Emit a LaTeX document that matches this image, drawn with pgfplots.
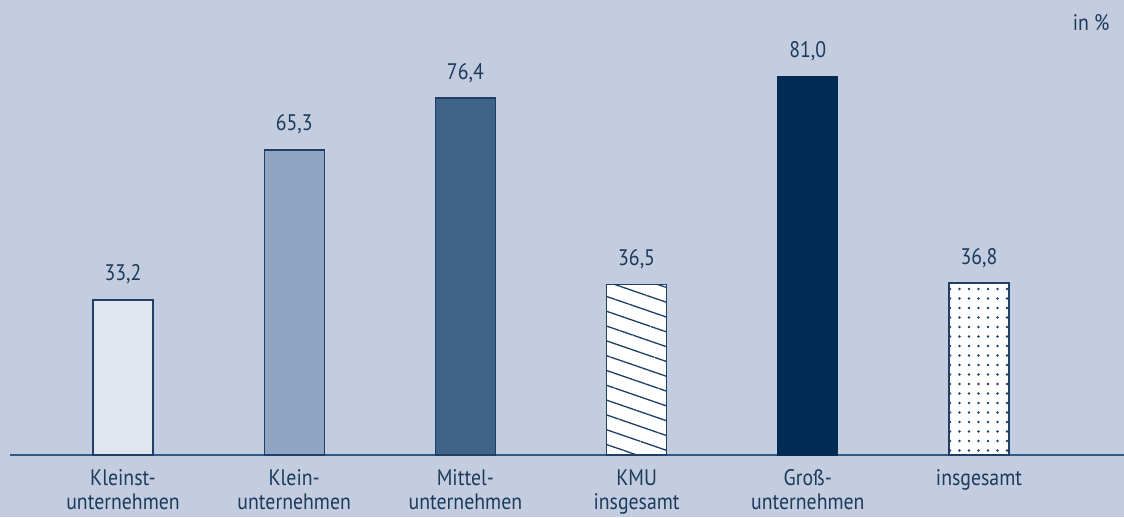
\documentclass[border=0pt]{standalone}
\usepackage{fontspec}
\setmainfont{PT Sans}[FakeStretch=0.88]
\usepackage{pgfplots}
\pgfplotsset{compat=1.18}
\usetikzlibrary{patterns.meta}
\definecolor{bg}{HTML}{C3CDDF}
\definecolor{txt}{HTML}{1B3A5C}
\definecolor{edge}{HTML}{1F3F66}
\definecolor{c1}{HTML}{E1E5EE}
\definecolor{c2}{HTML}{8FA5C2}
\definecolor{c3}{HTML}{3F6389}
\definecolor{c5}{HTML}{002B55}
\definecolor{axline}{HTML}{2E5A85}
\begin{document}
\begin{tikzpicture}[x=1pt,y=1pt]
\fill[bg] (0,0) rectangle (1124,517);
\useasboundingbox (0,0) rectangle (1124,517);
\begin{axis}[
  at={(10pt,62pt)}, anchor=south west,
  scale only axis, width=1114pt, height=455pt,
  xmin=-0.66, xmax=5.847, ymin=0, ymax=97.4,
  axis x line*=bottom, axis y line=none,
  x axis line style={draw=axline, line width=1.8pt},
  ytick=\empty,
  xtick={0,1,2,3,4,5},
  xticklabels={Kleinst-\\unternehmen, Klein-\\unternehmen, Mittel-\\unternehmen, KMU\\insgesamt, Groß-\\unternehmen, insgesamt},
  xticklabel style={align=center, font=\fontsize{22.5}{24}\selectfont, text=txt, anchor=north, yshift=-11pt},
  major tick length=0pt,
  ybar, bar width=60pt, bar shift=0pt,
  /pgf/number format/assume math mode=true,
  nodes near coords={\pgfmathprintnumber[fixed, fixed zerofill, precision=1, use comma]{\pgfplotspointmeta}},
  every node near coord/.append style={font=\fontsize{22.5}{25}\selectfont, text=txt, anchor=base, yshift=19pt},
  clip=false,
]
\addplot[fill=c1, draw=edge, line width=1.2pt] coordinates {(0,33.2)};
\addplot[fill=c2, draw=edge, line width=1.2pt] coordinates {(1,65.3)};
\addplot[fill=c3, draw=edge, line width=1.2pt] coordinates {(2,76.4)};
\addplot[fill=white, draw=edge, line width=1.2pt, postaction={pattern={Lines[angle=-19, distance=14pt, line width=1.3pt]}, pattern color=edge}] coordinates {(3,36.5)};
\addplot[fill=c5, draw=c5, line width=1.2pt] coordinates {(4,81.0)};
\addplot[fill=white, draw=edge, line width=1.2pt, postaction={pattern={Dots[distance=9.5pt, radius=1.4pt]}, pattern color=edge}] coordinates {(5,36.8)};
\end{axis}
\node[anchor=east, font=\fontsize{22.5}{25}\selectfont, text=txt] at (1113,494) {in \%};
\end{tikzpicture}
\end{document}
